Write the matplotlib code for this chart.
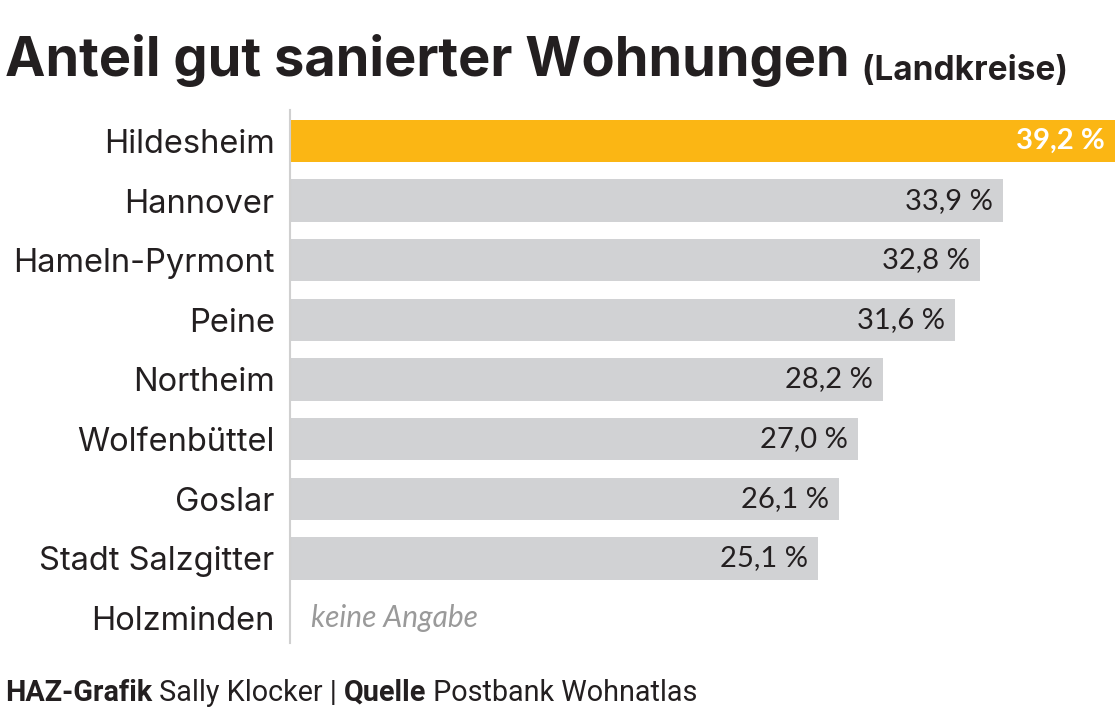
import matplotlib
matplotlib.use('Agg')
import numpy as np
import matplotlib.pyplot as plt

#==============================================================================
# Data
#==============================================================================
districts = ['Hildesheim', 'Hannover', 'Hameln-Pyrmont', 'Peine', 'Northeim',
             'Wolfenbüttel', 'Goslar', 'Stadt Salzgitter', 'Holzminden']
shares = [39.2, 33.9, 32.8, 31.6, 28.2, 27.0, 26.1, 25.1, np.nan]
highlight = 'Hildesheim'

ORANGE = '#FBB614'
GREY = '#D1D2D4'
DARK = '#231F20'

#==============================================================================
# Figure
#==============================================================================
fig = plt.figure(figsize=(11.18, 7.12), dpi=100)
ax = fig.add_axes([290/1118, 1 - 643/712, (1115 - 290)/1118, (643 - 110)/712])

y = np.arange(len(districts))
for i, (name, val) in enumerate(zip(districts, shares)):
    if np.isnan(val):
        ax.text(1.0, i, 'keine Angabe', va='center', ha='left',
                fontsize=21.5, style='italic', color='#9A9A9A', family='Lato')
        continue
    col = ORANGE if name == highlight else GREY
    ax.barh(i, val, height=0.71, color=col, edgecolor='none')
    lab = f'{val:.1f} %'.replace('.', ',')
    if name == highlight:
        ax.text(val - 0.5, i, lab, va='center', ha='right', fontsize=21,
                color='white', fontweight='bold', family='Lato')
    else:
        ax.text(val - 0.5, i, lab, va='center', ha='right', fontsize=21,
                color=DARK, family='Lato')

ax.set_xlim(0, 39.2)
ax.set_ylim(len(districts) - 1 + 0.42, -0.52)
ax.set_yticks(y)
ax.set_yticklabels(districts, fontsize=23.5, color=DARK, family='Inter')
ax.tick_params(axis='y', length=0, pad=11)
ax.set_xticks([])
for s in ['top', 'right', 'bottom']:
    ax.spines[s].set_visible(False)
ax.spines['left'].set_color('#D0D0D0')
ax.spines['left'].set_linewidth(1.5)

# Title
t = fig.text(5/1118, 1 - 76/712, 'Anteil gut sanierter Wohnungen',
             fontsize=39, fontweight='bold', color=DARK, family='Inter',
             va='baseline', ha='left')
ax.annotate(' (Landkreise)', xy=(1, 0), xycoords=t, xytext=(3, 0),
            textcoords='offset points', fontsize=24, fontweight='bold',
            color=DARK, family='Inter', va='bottom', ha='left')

# Footer
fs = 20.7
f1 = fig.text(5/1118, 1 - 701/712, 'HAZ-Grafik', fontsize=fs,
              fontweight='bold', color=DARK, family='Roboto',
              va='baseline', ha='left')
f2 = ax.annotate(' Sally Klocker | ', xy=(1, 0), xycoords=f1,
                 fontsize=fs, color=DARK, family='Roboto',
                 va='bottom', ha='left')
f3 = ax.annotate('Quelle', xy=(1, 0), xycoords=f2, fontsize=fs,
                 fontweight='bold', color=DARK, family='Roboto',
                 va='bottom', ha='left')
ax.annotate(' Postbank Wohnatlas', xy=(1, 0), xycoords=f3, fontsize=fs,
            color=DARK, family='Roboto', va='bottom', ha='left')

plt.savefig('out.png', dpi=100)
